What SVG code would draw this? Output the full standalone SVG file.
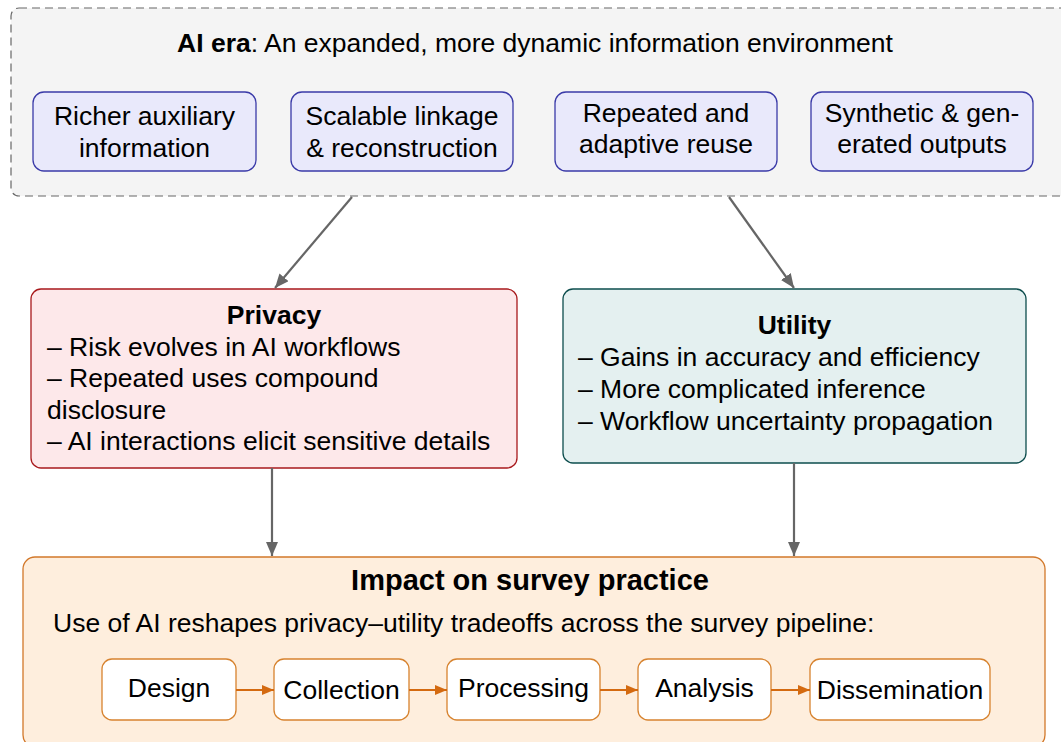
<svg xmlns="http://www.w3.org/2000/svg" width="1061" height="742" viewBox="0 0 1061 742">
  <defs>
    <style>
      text { font-family: "Liberation Sans", Arial, sans-serif; fill: #000; }
      .t { font-size: 26.5px; }
      .c { text-anchor: middle; }
      .b { font-weight: bold; }
      .era { fill: #f4f4f4; stroke: #666; stroke-width: 1.2; stroke-dasharray: 8 5; }
      .factor { fill: #e9e9fb; stroke: #3a3aa8; stroke-width: 1.3; }
      .privacy { fill: #fde8ea; stroke: #a8191c; stroke-width: 1.3; }
      .utility { fill: #e4f0f0; stroke: #0d4d4d; stroke-width: 1.3; }
      .impact { fill: #feeedd; stroke: #d2782a; stroke-width: 1.3; }
      .stage { fill: #ffffff; stroke: #d7832f; stroke-width: 1.3; }
      .link { stroke: #666; stroke-width: 2.2; fill: none; }
      .flow { stroke: #d46a10; stroke-width: 2.2; fill: none; }
    </style>
    <marker id="gray-head" viewBox="0 0 14 12" refX="14" refY="6" markerUnits="userSpaceOnUse" markerWidth="14" markerHeight="12" orient="auto">
      <path d="M0,0 L14,6 L0,12 z" fill="#666"/>
    </marker>
    <marker id="orange-head" viewBox="0 0 12 10" refX="12" refY="5" markerUnits="userSpaceOnUse" markerWidth="12" markerHeight="10" orient="auto">
      <path d="M0,0 L12,5 L0,10 z" fill="#d46a10"/>
    </marker>
  </defs>

  <!-- AI era container -->
  <g id="ai-era">
    <rect class="era" x="11" y="8" width="1062" height="188" rx="8"/>
    <text class="t c" x="535" y="52"><tspan font-weight="bold">AI era</tspan>: An expanded, more dynamic information environment</text>
  </g>

  <g id="auxiliary">
    <rect class="factor" x="33" y="92" width="223" height="79" rx="11"/>
    <text class="t c" x="144.5" y="125">Richer auxiliary</text>
    <text class="t c" x="144.5" y="157">information</text>
  </g>
  <g id="linkage">
    <rect class="factor" x="291" y="92" width="222" height="79" rx="11"/>
    <text class="t c" x="402" y="125">Scalable linkage</text>
    <text class="t c" x="402" y="157">&amp; reconstruction</text>
  </g>
  <g id="reuse">
    <rect class="factor" x="555" y="92" width="222" height="79" rx="11"/>
    <text class="t c" x="666" y="122">Repeated and</text>
    <text class="t c" x="666" y="153">adaptive reuse</text>
  </g>
  <g id="synthetic">
    <rect class="factor" x="811" y="92" width="222" height="79" rx="11"/>
    <text class="t c" x="922" y="122">Synthetic &amp; gen-</text>
    <text class="t c" x="922" y="153">erated outputs</text>
  </g>

  <!-- Privacy -->
  <g id="privacy">
    <rect class="privacy" x="31" y="289" width="486" height="179" rx="10"/>
    <text class="t c b" x="274" y="324">Privacy</text>
    <text class="t" x="47" y="356">– Risk evolves in AI workflows</text>
    <text class="t" x="47" y="387">– Repeated uses compound</text>
    <text class="t" x="47" y="419">disclosure</text>
    <text class="t" x="47" y="450">– AI interactions elicit sensitive details</text>
  </g>

  <!-- Utility -->
  <g id="utility">
    <rect class="utility" x="563" y="289" width="463" height="174" rx="10"/>
    <text class="t c b" x="794.5" y="334">Utility</text>
    <text class="t" x="578" y="366">– Gains in accuracy and efficiency</text>
    <text class="t" x="578" y="398">– More complicated inference</text>
    <text class="t" x="578" y="430">– Workflow uncertainty propagation</text>
  </g>

  <!-- Impact on survey practice -->
  <g id="impact">
    <rect class="impact" x="23" y="557" width="1022" height="190" rx="12"/>
    <text class="c b" x="530" y="590" font-size="29">Impact on survey practice</text>
    <text class="t" x="53" y="632">Use of AI reshapes privacy–utility tradeoffs across the survey pipeline:</text>
  </g>

  <g id="design">
    <rect class="stage" x="102" y="659" width="134" height="61" rx="10"/>
    <text class="t c" x="169" y="697">Design</text>
  </g>
  <g id="collection">
    <rect class="stage" x="274" y="659" width="135" height="61" rx="10"/>
    <text class="t c" x="341.5" y="699">Collection</text>
  </g>
  <g id="processing">
    <rect class="stage" x="447" y="659" width="153" height="61" rx="10"/>
    <text class="t c" x="523.5" y="697">Processing</text>
  </g>
  <g id="analysis">
    <rect class="stage" x="638" y="659" width="133" height="61" rx="10"/>
    <text class="t c" x="704.5" y="697">Analysis</text>
  </g>
  <g id="dissemination">
    <rect class="stage" x="810" y="659" width="180" height="61" rx="10"/>
    <text class="t c" x="900" y="699">Dissemination</text>
  </g>

  <!-- Connectors -->
  <g id="connectors">
    <line class="link" x1="352" y1="197" x2="275" y2="288" marker-end="url(#gray-head)"/>
    <line class="link" x1="729" y1="197" x2="794" y2="288" marker-end="url(#gray-head)"/>
    <line class="link" x1="272" y1="468" x2="272" y2="556" marker-end="url(#gray-head)"/>
    <line class="link" x1="794" y1="463" x2="794" y2="556" marker-end="url(#gray-head)"/>
    <line class="flow" x1="236" y1="690" x2="274" y2="690" marker-end="url(#orange-head)"/>
    <line class="flow" x1="409" y1="690" x2="447" y2="690" marker-end="url(#orange-head)"/>
    <line class="flow" x1="600" y1="690" x2="638" y2="690" marker-end="url(#orange-head)"/>
    <line class="flow" x1="771" y1="690" x2="810" y2="690" marker-end="url(#orange-head)"/>
  </g>
</svg>
